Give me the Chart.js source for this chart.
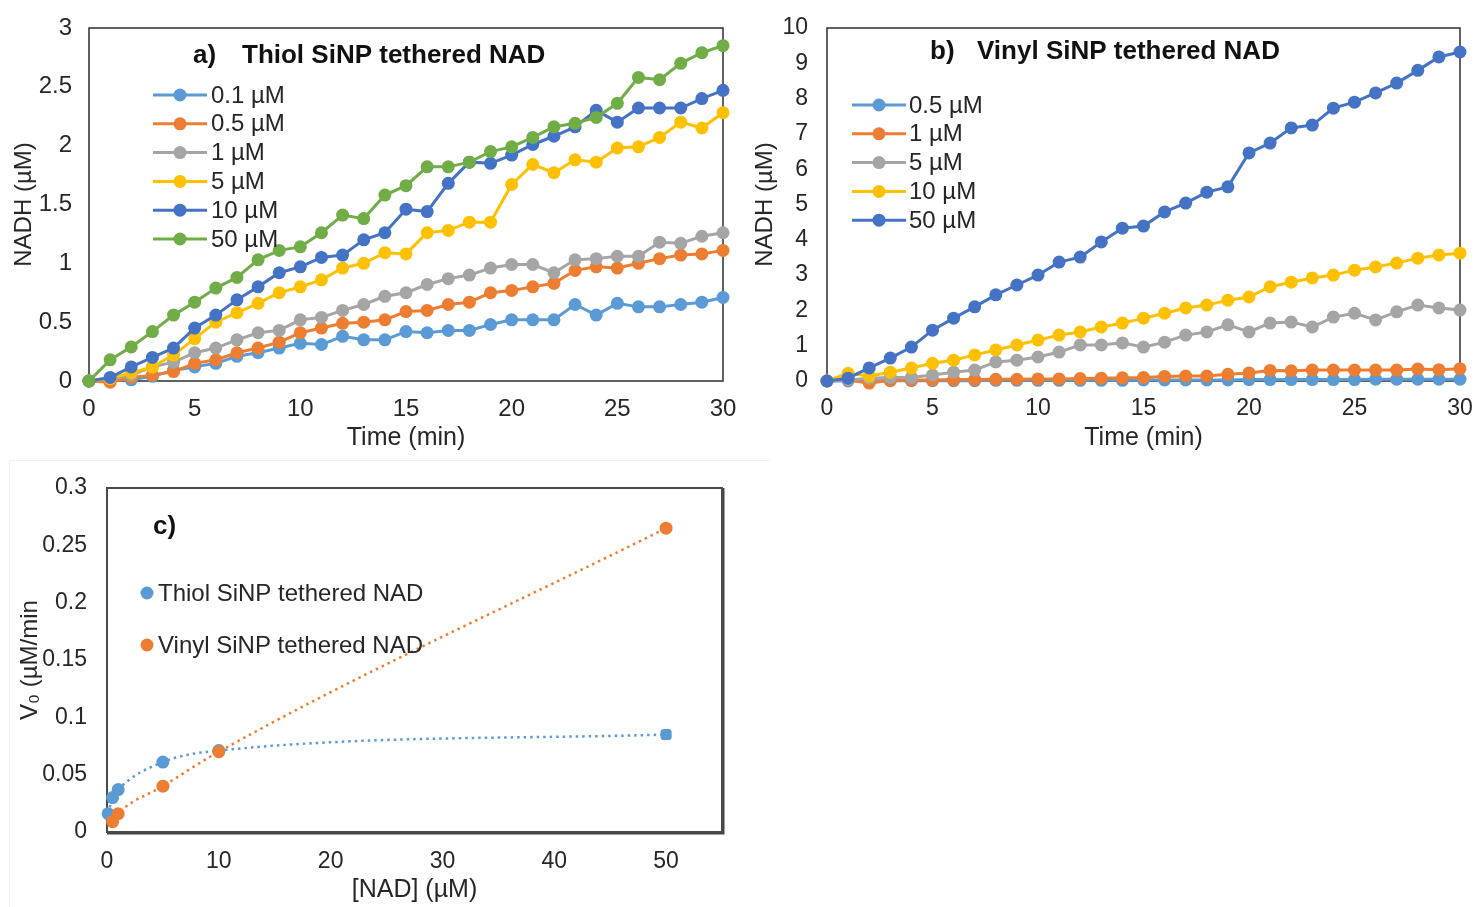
<!DOCTYPE html>
<html>
<head>
<meta charset="utf-8">
<title>NADH production</title>
<script src="https://cdn.jsdelivr.net/npm/chart.js@4.4.1/dist/chart.umd.min.js"></script>
<style>
  body { margin: 0; background: #fff; }
  .panel { position: absolute; }
  .frameC { position: absolute; left: 9px; top: 460px; width: 760px; height: 460px;
            border-top: 1px solid #f0f0f0; border-left: 1px solid #f0f0f0; }
</style>
</head>
<body>
<div class="frameC"></div>
<canvas id="chartA" class="panel" width="750" height="458" style="left:0;top:0"></canvas>
<canvas id="chartB" class="panel" width="735" height="458" style="left:740px;top:0"></canvas>
<canvas id="chartC" class="panel" width="760" height="447" style="left:0;top:460px"></canvas>
<script>
// time points (min)
const minutes = [0, 1, 2, 3, 4, 5, 6, 7, 8, 9, 10, 11, 12, 13, 14, 15, 16, 17, 18, 19, 20, 21, 22, 23, 24, 25, 26, 27, 28, 29, 30]
const timeTicks = [0, 5, 10, 15, 20, 25, 30]

// a) thiol SiNP tethered NAD, NADH (uM)
const thiolLabels = ['0.1 µM', '0.5 µM', '1 µM', '5 µM', '10 µM', '50 µM']
const thiol01 = [0, 0.01, 0.01, 0.04, 0.09, 0.12, 0.15, 0.21, 0.24, 0.28, 0.32, 0.31, 0.38, 0.35, 0.35, 0.42, 0.41, 0.43, 0.43, 0.48, 0.52, 0.52, 0.52, 0.65, 0.56, 0.66, 0.63, 0.63, 0.65, 0.67, 0.71]
const thiol05 = [0, -0.01, 0.03, 0.05, 0.08, 0.15, 0.18, 0.24, 0.28, 0.33, 0.41, 0.45, 0.49, 0.50, 0.52, 0.59, 0.60, 0.65, 0.67, 0.75, 0.77, 0.80, 0.83, 0.94, 0.97, 0.96, 1.00, 1.04, 1.07, 1.08, 1.11]
const thiol1 = [0, 0.02, 0.05, 0.12, 0.16, 0.24, 0.28, 0.35, 0.41, 0.43, 0.52, 0.54, 0.60, 0.65, 0.72, 0.75, 0.82, 0.87, 0.90, 0.96, 0.99, 0.99, 0.92, 1.03, 1.04, 1.06, 1.06, 1.18, 1.17, 1.23, 1.26]
const thiol5 = [0, 0.02, 0.07, 0.12, 0.22, 0.36, 0.50, 0.58, 0.66, 0.75, 0.80, 0.86, 0.96, 1.00, 1.09, 1.08, 1.26, 1.28, 1.35, 1.35, 1.67, 1.84, 1.77, 1.88, 1.86, 1.98, 1.99, 2.07, 2.20, 2.15, 2.28]
const thiol10 = [0, 0.03, 0.12, 0.20, 0.28, 0.45, 0.56, 0.69, 0.80, 0.92, 0.97, 1.05, 1.07, 1.20, 1.26, 1.46, 1.44, 1.68, 1.86, 1.85, 1.92, 2.01, 2.08, 2.16, 2.30, 2.20, 2.32, 2.32, 2.32, 2.40, 2.47]
const thiol50 = [0, 0.18, 0.29, 0.42, 0.56, 0.67, 0.79, 0.88, 1.03, 1.11, 1.14, 1.26, 1.41, 1.38, 1.58, 1.66, 1.82, 1.82, 1.86, 1.95, 1.99, 2.07, 2.16, 2.19, 2.24, 2.36, 2.58, 2.56, 2.70, 2.79, 2.85]
const thiolTicks = [0, 0.5, 1, 1.5, 2, 2.5, 3]

// b) vinyl SiNP tethered NAD, NADH (uM)
const vinylLabels = ['0.5 µM', '1 µM', '5 µM', '10 µM', '50 µM']
const vinyl05 = [0, 0, 0.01, 0.01, 0.01, 0.01, 0.01, 0.01, 0.02, 0.02, 0.02, 0.02, 0.02, 0.02, 0.02, 0.03, 0.03, 0.03, 0.03, 0.03, 0.04, 0.04, 0.04, 0.04, 0.04, 0.04, 0.05, 0.05, 0.05, 0.05, 0.05]
const vinyl1 = [0, 0.03, -0.06, 0.02, 0.03, 0.03, 0.04, 0.04, 0.05, 0.05, 0.06, 0.06, 0.07, 0.08, 0.09, 0.10, 0.13, 0.14, 0.14, 0.19, 0.23, 0.30, 0.29, 0.31, 0.31, 0.31, 0.31, 0.31, 0.34, 0.32, 0.35]
const vinyl5 = [0, 0.03, 0.08, 0.10, 0.10, 0.17, 0.25, 0.31, 0.54, 0.59, 0.68, 0.82, 1.02, 1.02, 1.08, 0.96, 1.10, 1.30, 1.39, 1.59, 1.39, 1.64, 1.67, 1.53, 1.81, 1.92, 1.73, 1.96, 2.15, 2.07, 2.01]
const vinyl10 = [0, 0.22, 0.14, 0.25, 0.37, 0.50, 0.59, 0.74, 0.88, 1.02, 1.16, 1.30, 1.39, 1.53, 1.64, 1.78, 1.92, 2.07, 2.15, 2.29, 2.38, 2.67, 2.80, 2.92, 3.00, 3.14, 3.23, 3.34, 3.48, 3.57, 3.62]
const vinyl50 = [0, 0.08, 0.37, 0.65, 0.96, 1.44, 1.78, 2.10, 2.44, 2.72, 3.00, 3.37, 3.51, 3.94, 4.33, 4.39, 4.79, 5.04, 5.35, 5.50, 6.46, 6.74, 7.17, 7.25, 7.73, 7.90, 8.16, 8.44, 8.80, 9.18, 9.32]
const vinylTicks = [0, 1, 2, 3, 4, 5, 6, 7, 8, 9, 10]

// c) initial rate vs [NAD]
const rateLabels = ['Thiol SiNP tethered NAD', 'Vinyl SiNP tethered NAD']
const thiolNad = [0.1, 0.5, 1, 5, 10, 50]
const thiolRate = [0.016, 0.030, 0.037, 0.061, 0.071, 0.085]
const vinylNad = [0.5, 1, 5, 10, 50]
const vinylRate = [0.009, 0.016, 0.040, 0.070, 0.265]
const nadTicks = [0, 10, 20, 30, 40, 50]
const rateTicks = [0, 0.05, 0.1, 0.15, 0.2, 0.25, 0.3]

const lightBlue = '#5B9BD5'
const orange = '#ED7D31'
const gray = '#A5A5A5'
const yellow = '#FFC000'
const blue = '#4472C4'
const green = '#70AD47'

const fontFamily = '"Liberation Sans", Arial, sans-serif'
const textColor = '#262626'

// box around the plot area, drawn under the lines
const plotFrame = {
    id: 'plotFrame',
    beforeDatasetsDraw(chart, args, opts) {
        const { ctx, chartArea: a } = chart
        ctx.save()
        if (opts.shadow) {
            ctx.strokeStyle = '#444'
            ctx.lineWidth = opts.shadow
            ctx.beginPath()
            ctx.moveTo(a.right + 1, a.top)
            ctx.lineTo(a.right + 1, a.bottom + 1)
            ctx.lineTo(a.left, a.bottom + 1)
            ctx.stroke()
        }
        ctx.strokeStyle = opts.color
        ctx.lineWidth = opts.width
        ctx.strokeRect(a.left, a.top, a.right - a.left, a.bottom - a.top)
        ctx.restore()
    }
}

// excel-like legend: short line with the marker in the middle
const lineLegend = {
    id: 'lineLegend',
    afterDraw(chart, args, opts) {
        const ctx = chart.ctx
        ctx.save()
        ctx.font = opts.font
        ctx.textBaseline = 'middle'
        chart.data.datasets.forEach((ds, i) => {
            const y = opts.y + i * opts.rowHeight
            const color = ds.borderColor
            if (opts.lineLength) {
                ctx.strokeStyle = color
                ctx.lineWidth = 3
                ctx.beginPath()
                ctx.moveTo(opts.x, y)
                ctx.lineTo(opts.x + opts.lineLength, y)
                ctx.stroke()
            }
            ctx.fillStyle = color
            ctx.beginPath()
            ctx.arc(opts.x + opts.lineLength / 2, y, 6.5, 0, Math.PI * 2)
            ctx.fill()
            ctx.fillStyle = textColor
            ctx.fillText(ds.label, opts.x + opts.lineLength + opts.gap, y + 1)
        })
        ctx.restore()
    }
}

// panel letters and headings inside the plot
const panelText = {
    id: 'panelText',
    afterDraw(chart, args, opts) {
        const ctx = chart.ctx
        ctx.save()
        ctx.fillStyle = '#111'
        ctx.textBaseline = 'middle'
        opts.items.forEach(item => {
            ctx.font = item.font
            ctx.fillText(item.text, item.x, item.y)
        })
        ctx.restore()
    }
}

function series(values) {
    return values.map((v, i) => ({ x: minutes[i], y: v }))
}

function lineSet(label, values, color, order) {
    return {
        label: label,
        data: series(values),
        borderColor: color,
        backgroundColor: color,
        borderWidth: 3,
        pointRadius: 6.5,
        pointBorderWidth: 0,
        pointBackgroundColor: color,
        clip: false,
        order: order
    }
}

function axes(cfg) {
    return {
        x: {
            type: 'linear',
            min: cfg.xMin,
            max: cfg.xMax,
            afterFit: s => {
                s.height = cfg.xHeight
                s.paddingLeft = 0
                s.paddingRight = 0
            },
            afterBuildTicks: s => { s.ticks = cfg.xTicks.map(v => ({ value: v })) },
            grid: { display: false, drawTicks: false },
            border: { display: false },
            ticks: { padding: cfg.xPad, color: textColor, font: { family: fontFamily, size: cfg.tickSize }, callback: v => String(v), maxRotation: 0 },
            title: { display: true, text: cfg.xTitle, color: textColor, padding: { top: 0, bottom: cfg.xTitlePad }, font: { family: fontFamily, size: 25 } }
        },
        y: {
            type: 'linear',
            min: cfg.yMin,
            max: cfg.yMax,
            afterFit: s => {
                s.width = cfg.yWidth
                s.paddingTop = 0
                s.paddingBottom = 0
            },
            afterBuildTicks: s => { s.ticks = cfg.yTicks.map(v => ({ value: v })) },
            grid: { display: false, drawTicks: false },
            border: { display: false },
            ticks: { padding: cfg.yPad, color: textColor, font: { family: fontFamily, size: cfg.tickSize }, callback: v => String(v) },
            title: { display: true, text: cfg.yTitle, color: textColor, padding: 0, font: { family: fontFamily, size: 24 } }
        }
    }
}

const baseOptions = {
    responsive: false,
    animation: false,
    events: []
}

const thiolSeries = [thiol01, thiol05, thiol1, thiol5, thiol10, thiol50]
const thiolColors = [lightBlue, orange, gray, yellow, blue, green]

new Chart(document.getElementById('chartA'), {
    type: 'line',
    data: {
        datasets: thiolSeries.map((vals, i) => lineSet(thiolLabels[i], vals, thiolColors[i], thiolSeries.length - i))
    },
    options: {
        ...baseOptions,
        layout: { padding: { left: 10, top: 28, right: 27, bottom: 0 } },
        scales: axes({
            tickSize: 24,
            xMin: 0, xMax: 30, xTicks: timeTicks, xHeight: 77, xPad: 14, xTitle: 'Time (min)', xTitlePad: 5,
            yMin: 0, yMax: 3, yTicks: thiolTicks, yWidth: 79, yPad: 17, yTitle: 'NADH (µM)'
        }),
        plugins: {
            legend: { display: false },
            tooltip: { enabled: false },
            plotFrame: { color: '#3a3a3a', width: 1.6 },
            lineLegend: { x: 153, y: 95, rowHeight: 28.8, lineLength: 54, gap: 4, font: '24px ' + fontFamily },
            panelText: {
                items: [
                    { text: 'a)', x: 193, y: 56, font: 'bold 26px ' + fontFamily },
                    { text: 'Thiol SiNP tethered NAD', x: 242, y: 56, font: 'bold 26px ' + fontFamily }
                ]
            }
        }
    },
    plugins: [plotFrame, lineLegend, panelText]
})

const vinylSeries = [vinyl05, vinyl1, vinyl5, vinyl10, vinyl50]
const vinylColors = [lightBlue, orange, gray, yellow, blue]

new Chart(document.getElementById('chartB'), {
    type: 'line',
    data: {
        datasets: vinylSeries.map((vals, i) => lineSet(vinylLabels[i], vals, vinylColors[i], vinylSeries.length - i))
    },
    options: {
        ...baseOptions,
        layout: { padding: { left: 11, top: 28, right: 15, bottom: 0 } },
        scales: axes({
            tickSize: 23,
            xMin: 0, xMax: 30, xTicks: timeTicks, xHeight: 77, xPad: 14, xTitle: 'Time (min)', xTitlePad: 5,
            yMin: 0, yMax: 10, yTicks: vinylTicks, yWidth: 76, yPad: 19, yTitle: 'NADH (µM)'
        }),
        plugins: {
            legend: { display: false },
            tooltip: { enabled: false },
            plotFrame: { color: '#3a3a3a', width: 1.6 },
            lineLegend: { x: 112, y: 105, rowHeight: 28.8, lineLength: 54, gap: 3, font: '24px ' + fontFamily },
            panelText: {
                items: [
                    { text: 'b)', x: 190, y: 52, font: 'bold 26px ' + fontFamily },
                    { text: 'Vinyl SiNP tethered NAD', x: 237, y: 52, font: 'bold 26px ' + fontFamily }
                ]
            }
        }
    },
    plugins: [plotFrame, lineLegend, panelText]
})

function rateSet(label, xs, ys, color, order, styles) {
    return {
        label: label,
        data: xs.map((x, i) => ({ x: x, y: ys[i] })),
        showLine: true,
        cubicInterpolationMode: 'monotone',
        borderColor: color,
        backgroundColor: color,
        borderWidth: 2.5,
        borderDash: [2.5, 4],
        pointRadius: 6.5,
        pointBorderWidth: 0,
        pointBackgroundColor: color,
        pointStyle: styles,
        clip: false,
        order: order
    }
}

new Chart(document.getElementById('chartC'), {
    type: 'scatter',
    data: {
        datasets: [
            rateSet(rateLabels[0], thiolNad, thiolRate, lightBlue, 2, ['circle', 'circle', 'circle', 'circle', 'circle', 'rectRounded']),
            rateSet(rateLabels[1], vinylNad, vinylRate, orange, 1, 'circle')
        ]
    },
    options: {
        ...baseOptions,
        layout: { padding: { left: 16, top: 28, right: 38, bottom: 0 } },
        scales: axes({
            tickSize: 23,
            xMin: 0, xMax: 55, xTicks: nadTicks, xHeight: 75, xPad: 16, xTitle: '[NAD] (µM)', xTitlePad: 2,
            yMin: 0, yMax: 0.3, yTicks: rateTicks, yWidth: 91, yPad: 20, yTitle: 'V₀ (µM/min'
        }),
        plugins: {
            legend: { display: false },
            tooltip: { enabled: false },
            plotFrame: { color: '#4a4a4a', width: 2, shadow: 3 },
            lineLegend: { x: 147, y: 133, rowHeight: 52, lineLength: 0, gap: 11, font: '24px ' + fontFamily },
            panelText: {
                items: [
                    { text: 'c)', x: 153, y: 67, font: 'bold 26px ' + fontFamily }
                ]
            }
        }
    },
    plugins: [plotFrame, lineLegend, panelText]
})
</script>
</body>
</html>
